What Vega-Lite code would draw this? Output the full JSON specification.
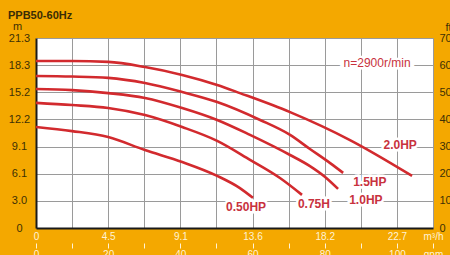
{
  "$schema": "https://vega.github.io/schema/vega-lite/v6.json",
  "width": 397,
  "height": 190,
  "autosize": "none",
  "padding": {"left": 36, "top": 38, "right": 17, "bottom": 27},
  "background": "#F4A800",
  "config": {"view": {"fill": "white", "stroke": null}, "font": "Liberation Sans"},
  "title": {"text": "PPB50-60Hz", "anchor": "start", "frame": "group", "dx": -28, "offset": -1, "fontSize": 11, "fontWeight": "bold", "color": "#3a2c05"},
  "datasets": {
    "curves": [
      {"hp": "2.0HP", "gpm": 0, "ft": 61.5}, {"hp": "2.0HP", "gpm": 10, "ft": 61.5}, {"hp": "2.0HP", "gpm": 20, "ft": 61.2}, {"hp": "2.0HP", "gpm": 30.2, "ft": 59.3}, {"hp": "2.0HP", "gpm": 40.5, "ft": 56.4}, {"hp": "2.0HP", "gpm": 50.2, "ft": 52.7}, {"hp": "2.0HP", "gpm": 56.5, "ft": 49.7}, {"hp": "2.0HP", "gpm": 70.4, "ft": 42.7}, {"hp": "2.0HP", "gpm": 87.0, "ft": 32.4}, {"hp": "2.0HP", "gpm": 104.2, "ft": 19.2},
      {"hp": "1.5HP", "gpm": 0, "ft": 56.0}, {"hp": "1.5HP", "gpm": 10, "ft": 55.8}, {"hp": "1.5HP", "gpm": 20, "ft": 55.3}, {"hp": "1.5HP", "gpm": 30.2, "ft": 53.4}, {"hp": "1.5HP", "gpm": 40.5, "ft": 50.1}, {"hp": "1.5HP", "gpm": 50.2, "ft": 46.4}, {"hp": "1.5HP", "gpm": 62.1, "ft": 39.8}, {"hp": "1.5HP", "gpm": 70.4, "ft": 34.3}, {"hp": "1.5HP", "gpm": 75.9, "ft": 29.1}, {"hp": "1.5HP", "gpm": 81.5, "ft": 23.9}, {"hp": "1.5HP", "gpm": 85.1, "ft": 20.3},
      {"hp": "1.0HP", "gpm": 0, "ft": 51.2}, {"hp": "1.0HP", "gpm": 10, "ft": 50.8}, {"hp": "1.0HP", "gpm": 20, "ft": 49.7}, {"hp": "1.0HP", "gpm": 30.2, "ft": 47.9}, {"hp": "1.0HP", "gpm": 40.5, "ft": 44.2}, {"hp": "1.0HP", "gpm": 50.2, "ft": 39.8}, {"hp": "1.0HP", "gpm": 59.3, "ft": 34.3}, {"hp": "1.0HP", "gpm": 70.4, "ft": 26.9}, {"hp": "1.0HP", "gpm": 75.9, "ft": 22.8}, {"hp": "1.0HP", "gpm": 80.1, "ft": 18.8}, {"hp": "1.0HP", "gpm": 83.7, "ft": 14.4},
      {"hp": "0.75HP", "gpm": 0, "ft": 46.1}, {"hp": "0.75HP", "gpm": 10, "ft": 45.3}, {"hp": "0.75HP", "gpm": 20, "ft": 44.2}, {"hp": "0.75HP", "gpm": 30.2, "ft": 41.6}, {"hp": "0.75HP", "gpm": 40.5, "ft": 37.2}, {"hp": "0.75HP", "gpm": 50.2, "ft": 32.1}, {"hp": "0.75HP", "gpm": 59.3, "ft": 25.1}, {"hp": "0.75HP", "gpm": 67.6, "ft": 18.4}, {"hp": "0.75HP", "gpm": 73.7, "ft": 12.2},
      {"hp": "0.50HP", "gpm": 0, "ft": 37.2}, {"hp": "0.50HP", "gpm": 10, "ft": 35.7}, {"hp": "0.50HP", "gpm": 20, "ft": 33.5}, {"hp": "0.50HP", "gpm": 30.2, "ft": 28.7}, {"hp": "0.50HP", "gpm": 40.5, "ft": 24.3}, {"hp": "0.50HP", "gpm": 50.2, "ft": 19.2}, {"hp": "0.50HP", "gpm": 56.5, "ft": 14.7}, {"hp": "0.50HP", "gpm": 60.1, "ft": 11.1}
    ],
    "labels": [
      {"label": "2.0HP", "kind": "hp", "gpm": 100.9, "ft": 30.6},
      {"label": "1.5HP", "kind": "hp", "gpm": 92.5, "ft": 16.9},
      {"label": "1.0HP", "kind": "hp", "gpm": 91.4, "ft": 10.3},
      {"label": "0.75H", "kind": "hp", "gpm": 77.0, "ft": 8.8},
      {"label": "0.50HP", "kind": "hp", "gpm": 58.2, "ft": 7.7},
      {"label": "n=2900r/min", "kind": "rpm", "gpm": 94.5, "ft": 60.8}
    ]
  },
  "layer": [
    {
      "data": {"name": "curves"},
      "mark": {"type": "line", "interpolate": "monotone", "color": "#d22a2e", "strokeWidth": 2.6},
      "encoding": {
        "x": {"field": "gpm", "type": "quantitative", "scale": {"domain": [0, 110], "nice": false, "zero": false},
          "axis": {"orient": "bottom", "values": [0, 10, 20, 30, 40, 50, 60, 70, 80, 90, 100, 110],
            "labelExpr": "datum.value==0?'0':datum.value==20?'4.5':datum.value==40?'9.1':datum.value==60?'13.6':datum.value==80?'18.2':datum.value==100?'22.7':datum.value==110?'m³/h':''",
            "grid": true, "gridColor": "#9a9a9a", "gridWidth": 1, "ticks": false, "domain": true, "domainColor": "#1a1a1a", "domainWidth": 2,
            "labelPadding": 3, "labelColor": "#fff3d6", "labelFontSize": 10, "labelFlush": false, "labelOverlap": false, "title": null}},
        "y": {"field": "ft", "type": "quantitative", "scale": {"domain": [0, 70], "nice": false, "zero": false},
          "axis": {"orient": "left", "values": [0, 10, 20, 30, 40, 50, 60, 70],
            "labelExpr": "datum.value==0?'0':datum.value==10?'3.0':datum.value==20?'6.1':datum.value==30?'9.1':datum.value==40?'12.2':datum.value==50?'15.2':datum.value==60?'18.3':'21.3'",
            "grid": true, "gridColor": "#9a9a9a", "gridWidth": 1, "ticks": false, "domain": true, "domainColor": "#1a1a1a", "domainWidth": 2,
            "labelAlign": "center", "labelPadding": 17, "labelColor": "#3d3005", "labelFontSize": 11, "labelFlush": false, "labelOverlap": false,
            "title": "m", "titleAngle": 0, "titleX": -19, "titleY": -9, "titleAlign": "center", "titleBaseline": "alphabetic", "titleFontWeight": "normal", "titleFontSize": 11, "titleColor": "#3d3005"}},
        "detail": {"field": "hp"}
      }
    },
    {
      "data": {"name": "labels"},
      "mark": {"type": "text", "fill": "white", "stroke": "white", "strokeWidth": 5, "fontSize": 12, "fontWeight": "bold"},
      "encoding": {
        "x": {"field": "gpm", "type": "quantitative", "axis": null},
        "y": {"field": "ft", "type": "quantitative", "axis": null},
        "text": {"field": "label"}
      }
    },
    {
      "data": {"name": "labels"},
      "transform": [{"filter": "datum.kind == 'hp'"}],
      "mark": {"type": "text", "color": "#c8323e", "fontSize": 12, "fontWeight": "bold"},
      "encoding": {
        "x": {"field": "gpm", "type": "quantitative",
          "axis": {"orient": "bottom", "offset": 15, "values": [0, 10, 20, 30, 40, 50, 60, 70, 80, 90, 100, 110],
            "labelExpr": "datum.value==110?'gpm':(datum.value%20==0?datum.label:'')",
            "grid": false, "domain": false, "ticks": true, "tickSize": 5, "tickColor": "#fff3d6", "tickWidth": 1,
            "labelPadding": 1, "labelColor": "#fff3d6", "labelFontSize": 10, "labelFlush": false, "labelOverlap": false, "title": null}},
        "y": {"field": "ft", "type": "quantitative",
          "axis": {"orient": "right", "values": [0, 10, 20, 30, 40, 50, 60, 70], "grid": false, "ticks": false, "domain": false,
            "labelPadding": 6, "labelColor": "#3d3005", "labelFontSize": 11, "labelFlush": false, "labelOverlap": false,
            "title": "ft", "titleAngle": 0, "titleX": 12, "titleY": -8, "titleAlign": "left", "titleBaseline": "alphabetic", "titleFontWeight": "normal", "titleFontSize": 11, "titleColor": "#3d3005"}},
        "text": {"field": "label"}
      }
    },
    {
      "data": {"name": "labels"},
      "transform": [{"filter": "datum.kind == 'rpm'"}],
      "mark": {"type": "text", "color": "#c8323e", "fontSize": 12},
      "encoding": {
        "x": {"field": "gpm", "type": "quantitative", "axis": null},
        "y": {"field": "ft", "type": "quantitative", "axis": null},
        "text": {"field": "label"}
      }
    }
  ],
  "resolve": {"axis": {"x": "independent", "y": "independent"}}
}
